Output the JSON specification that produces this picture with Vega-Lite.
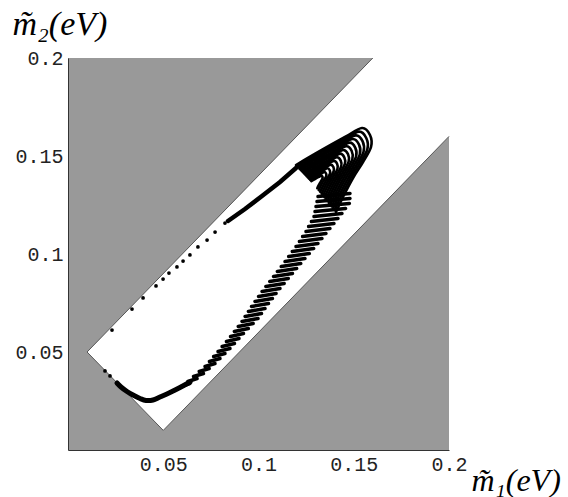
{
  "$schema": "https://vega.github.io/schema/vega-lite/v6.json",
  "width": 381,
  "height": 392,
  "autosize": "none",
  "padding": {"left": 68, "top": 58, "right": 119, "bottom": 47},
  "background": "white",
  "config": {"view": {"fill": "#999999", "stroke": null}},
  "datasets": {
    "region": [
      {"m1": 0.01, "m2": 0.05, "top": 0.05},
      {"m1": 0.05, "m2": 0.01, "top": 0.09},
      {"m1": 0.16, "m2": 0.12, "top": 0.2},
      {"m1": 0.2, "m2": 0.16, "top": 0.2}
    ],
    "edge": [
      {"i": 1, "m1": 0.16, "m2": 0.2},
      {"i": 2, "m1": 0.01, "m2": 0.05},
      {"i": 3, "m1": 0.05, "m2": 0.01},
      {"i": 4, "m1": 0.2, "m2": 0.16}
    ],
    "dots": [
      {"m1": 0.0231, "m2": 0.0612}, {"m1": 0.0336, "m2": 0.0719}, {"m1": 0.0394, "m2": 0.0776},
      {"m1": 0.0462, "m2": 0.0837}, {"m1": 0.0499, "m2": 0.0872}, {"m1": 0.0530, "m2": 0.0903},
      {"m1": 0.0572, "m2": 0.0934}, {"m1": 0.0604, "m2": 0.0964}, {"m1": 0.0640, "m2": 0.0995},
      {"m1": 0.0682, "m2": 0.1036}, {"m1": 0.0730, "m2": 0.1071}, {"m1": 0.0772, "m2": 0.1112},
      {"m1": 0.0824, "m2": 0.1158}, {"m1": 0.02205, "m2": 0.03776}, {"m1": 0.01942, "m2": 0.04031}
    ],
    "tail": [
      {"i": 1, "m1": 0.08399, "m2": 0.11684},
      {"i": 2, "m1": 0.09291, "m2": 0.12296},
      {"i": 3, "m1": 0.10184, "m2": 0.12959},
      {"i": 4, "m1": 0.11129, "m2": 0.13673},
      {"i": 5, "m1": 0.11969, "m2": 0.14388}
    ],
    "bottom": [
      {"i": 1, "m1": 0.06404, "m2": 0.03469},
      {"i": 2, "m1": 0.05879, "m2": 0.03189},
      {"i": 3, "m1": 0.05354, "m2": 0.02934},
      {"i": 4, "m1": 0.04829, "m2": 0.02704},
      {"i": 5, "m1": 0.04462, "m2": 0.02551},
      {"i": 6, "m1": 0.04094, "m2": 0.02526},
      {"i": 7, "m1": 0.03780, "m2": 0.02628},
      {"i": 8, "m1": 0.03412, "m2": 0.02806},
      {"i": 9, "m1": 0.03097, "m2": 0.02985},
      {"i": 10, "m1": 0.02782, "m2": 0.03214},
      {"i": 11, "m1": 0.02572, "m2": 0.03418}
    ],
    "dashes": [
      {"d": -3, "m1": 0.13123, "m2": 0.12934}, {"d": -3, "m1": 0.14803, "m2": 0.13087},
      {"d": -2, "m1": 0.13071, "m2": 0.12679}, {"d": -2, "m1": 0.14803, "m2": 0.12832},
      {"d": -1, "m1": 0.13018, "m2": 0.12423}, {"d": -1, "m1": 0.14772, "m2": 0.12577},
      {"d": 0, "m1": 0.12966, "m2": 0.12168}, {"d": 0, "m1": 0.14572, "m2": 0.12321},
      {"d": 1, "m1": 0.12913, "m2": 0.11913}, {"d": 1, "m1": 0.14383, "m2": 0.12066},
      {"d": 2, "m1": 0.12777, "m2": 0.11658}, {"d": 2, "m1": 0.14173, "m2": 0.11811},
      {"d": 3, "m1": 0.12630, "m2": 0.11403}, {"d": 3, "m1": 0.13963, "m2": 0.11556},
      {"d": 4, "m1": 0.12493, "m2": 0.11148}, {"d": 4, "m1": 0.13753, "m2": 0.11301},
      {"d": 5, "m1": 0.12315, "m2": 0.10893}, {"d": 5, "m1": 0.13543, "m2": 0.11046},
      {"d": 6, "m1": 0.12147, "m2": 0.10638}, {"d": 6, "m1": 0.13333, "m2": 0.10791},
      {"d": 7, "m1": 0.11969, "m2": 0.10383}, {"d": 7, "m1": 0.13123, "m2": 0.10536},
      {"d": 8, "m1": 0.11774, "m2": 0.10128}, {"d": 8, "m1": 0.12898, "m2": 0.10281},
      {"d": 9, "m1": 0.11585, "m2": 0.09872}, {"d": 9, "m1": 0.12667, "m2": 0.10026},
      {"d": 10, "m1": 0.11391, "m2": 0.09617}, {"d": 10, "m1": 0.12441, "m2": 0.09770},
      {"d": 11, "m1": 0.11192, "m2": 0.09362}, {"d": 11, "m1": 0.12220, "m2": 0.09515},
      {"d": 12, "m1": 0.10987, "m2": 0.09107}, {"d": 12, "m1": 0.12005, "m2": 0.09260},
      {"d": 13, "m1": 0.10787, "m2": 0.08852}, {"d": 13, "m1": 0.11785, "m2": 0.09005},
      {"d": 14, "m1": 0.10588, "m2": 0.08597}, {"d": 14, "m1": 0.11564, "m2": 0.08750},
      {"d": 15, "m1": 0.10383, "m2": 0.08342}, {"d": 15, "m1": 0.11349, "m2": 0.08495},
      {"d": 16, "m1": 0.10184, "m2": 0.08087}, {"d": 16, "m1": 0.11129, "m2": 0.08240},
      {"d": 17, "m1": 0.10000, "m2": 0.07832}, {"d": 17, "m1": 0.10924, "m2": 0.07985},
      {"d": 18, "m1": 0.09816, "m2": 0.07577}, {"d": 18, "m1": 0.10730, "m2": 0.07730},
      {"d": 19, "m1": 0.09633, "m2": 0.07321}, {"d": 19, "m1": 0.10525, "m2": 0.07474},
      {"d": 20, "m1": 0.09470, "m2": 0.07066}, {"d": 20, "m1": 0.10341, "m2": 0.07219},
      {"d": 21, "m1": 0.09297, "m2": 0.06811}, {"d": 21, "m1": 0.10157, "m2": 0.06964},
      {"d": 22, "m1": 0.09134, "m2": 0.06556}, {"d": 22, "m1": 0.09974, "m2": 0.06709},
      {"d": 23, "m1": 0.08934, "m2": 0.06301}, {"d": 23, "m1": 0.09722, "m2": 0.06454},
      {"d": 24, "m1": 0.08730, "m2": 0.06046}, {"d": 24, "m1": 0.09465, "m2": 0.06199},
      {"d": 25, "m1": 0.08530, "m2": 0.05791}, {"d": 25, "m1": 0.09213, "m2": 0.05944},
      {"d": 26, "m1": 0.08315, "m2": 0.05536}, {"d": 26, "m1": 0.08976, "m2": 0.05689},
      {"d": 27, "m1": 0.08089, "m2": 0.05281}, {"d": 27, "m1": 0.08740, "m2": 0.05434},
      {"d": 28, "m1": 0.07874, "m2": 0.05026}, {"d": 28, "m1": 0.08504, "m2": 0.05179},
      {"d": 29, "m1": 0.07643, "m2": 0.04770}, {"d": 29, "m1": 0.08241, "m2": 0.04923},
      {"d": 30, "m1": 0.07423, "m2": 0.04515}, {"d": 30, "m1": 0.07979, "m2": 0.04668},
      {"d": 31, "m1": 0.07192, "m2": 0.04260}, {"d": 31, "m1": 0.07717, "m2": 0.04413},
      {"d": 32, "m1": 0.06887, "m2": 0.04005}, {"d": 32, "m1": 0.07412, "m2": 0.04158},
      {"d": 33, "m1": 0.06588, "m2": 0.03750}, {"d": 33, "m1": 0.07113, "m2": 0.03903},
      {"d": 34, "m1": 0.06294, "m2": 0.03495}, {"d": 34, "m1": 0.06777, "m2": 0.03648},
      {"d": 35, "m1": 0.05948, "m2": 0.03240}, {"d": 35, "m1": 0.06388, "m2": 0.03393}
    ],
    "arcs": [
      {"k": 13, "i": 1, "m1": 0.11969, "m2": 0.14541}, {"k": 13, "i": 2, "m1": 0.13228, "m2": 0.15255},
      {"k": 13, "i": 3, "m1": 0.14541, "m2": 0.15969}, {"k": 13, "i": 4, "m1": 0.15433, "m2": 0.16429},
      {"k": 13, "i": 5, "m1": 0.15853, "m2": 0.16071}, {"k": 13, "i": 6, "m1": 0.15906, "m2": 0.15459},
      {"k": 13, "i": 7, "m1": 0.15486, "m2": 0.14694}, {"k": 13, "i": 8, "m1": 0.14961, "m2": 0.13878},
      {"k": 13, "i": 9, "m1": 0.14488, "m2": 0.13010}, {"k": 13, "i": 10, "m1": 0.14068, "m2": 0.12143},
      {"k": 12, "i": 1, "m1": 0.12030, "m2": 0.14478}, {"k": 12, "i": 2, "m1": 0.13208, "m2": 0.15146},
      {"k": 12, "i": 3, "m1": 0.14435, "m2": 0.15814}, {"k": 12, "i": 4, "m1": 0.15269, "m2": 0.16243},
      {"k": 12, "i": 5, "m1": 0.15662, "m2": 0.15909}, {"k": 12, "i": 6, "m1": 0.15711, "m2": 0.15337},
      {"k": 12, "i": 7, "m1": 0.15318, "m2": 0.14621}, {"k": 12, "i": 8, "m1": 0.14828, "m2": 0.13858},
      {"k": 12, "i": 9, "m1": 0.14386, "m2": 0.13047}, {"k": 12, "i": 10, "m1": 0.13993, "m2": 0.12236},
      {"k": 11, "i": 1, "m1": 0.12092, "m2": 0.14414}, {"k": 11, "i": 2, "m1": 0.13187, "m2": 0.15035},
      {"k": 11, "i": 3, "m1": 0.14328, "m2": 0.15655}, {"k": 11, "i": 4, "m1": 0.15103, "m2": 0.16054},
      {"k": 11, "i": 5, "m1": 0.15468, "m2": 0.15744}, {"k": 11, "i": 6, "m1": 0.15514, "m2": 0.15212},
      {"k": 11, "i": 7, "m1": 0.15149, "m2": 0.14547}, {"k": 11, "i": 8, "m1": 0.14692, "m2": 0.13837},
      {"k": 11, "i": 9, "m1": 0.14282, "m2": 0.13084}, {"k": 11, "i": 10, "m1": 0.13917, "m2": 0.12330},
      {"k": 10, "i": 1, "m1": 0.12154, "m2": 0.14351}, {"k": 10, "i": 2, "m1": 0.13167, "m2": 0.14925},
      {"k": 10, "i": 3, "m1": 0.14222, "m2": 0.15499}, {"k": 10, "i": 4, "m1": 0.14939, "m2": 0.15869},
      {"k": 10, "i": 5, "m1": 0.15277, "m2": 0.15581}, {"k": 10, "i": 6, "m1": 0.15319, "m2": 0.15089},
      {"k": 10, "i": 7, "m1": 0.14981, "m2": 0.14474}, {"k": 10, "i": 8, "m1": 0.14559, "m2": 0.13818},
      {"k": 10, "i": 9, "m1": 0.14180, "m2": 0.13120}, {"k": 10, "i": 10, "m1": 0.13842, "m2": 0.12423},
      {"k": 9, "i": 1, "m1": 0.12216, "m2": 0.14287}, {"k": 9, "i": 2, "m1": 0.13146, "m2": 0.14814},
      {"k": 9, "i": 3, "m1": 0.14114, "m2": 0.15341}, {"k": 9, "i": 4, "m1": 0.14773, "m2": 0.15680},
      {"k": 9, "i": 5, "m1": 0.15083, "m2": 0.15416}, {"k": 9, "i": 6, "m1": 0.15122, "m2": 0.14965},
      {"k": 9, "i": 7, "m1": 0.14812, "m2": 0.14400}, {"k": 9, "i": 8, "m1": 0.14424, "m2": 0.13797},
      {"k": 9, "i": 9, "m1": 0.14076, "m2": 0.13157}, {"k": 9, "i": 10, "m1": 0.13766, "m2": 0.12517},
      {"k": 8, "i": 1, "m1": 0.12278, "m2": 0.14224}, {"k": 8, "i": 2, "m1": 0.13125, "m2": 0.14705},
      {"k": 8, "i": 3, "m1": 0.14009, "m2": 0.15185}, {"k": 8, "i": 4, "m1": 0.14609, "m2": 0.15494},
      {"k": 8, "i": 5, "m1": 0.14892, "m2": 0.15254}, {"k": 8, "i": 6, "m1": 0.14927, "m2": 0.14842},
      {"k": 8, "i": 7, "m1": 0.14645, "m2": 0.14327}, {"k": 8, "i": 8, "m1": 0.14291, "m2": 0.13777},
      {"k": 8, "i": 9, "m1": 0.13973, "m2": 0.13194}, {"k": 8, "i": 10, "m1": 0.13691, "m2": 0.12610},
      {"k": 7, "i": 1, "m1": 0.12339, "m2": 0.14161}, {"k": 7, "i": 2, "m1": 0.13105, "m2": 0.14595},
      {"k": 7, "i": 3, "m1": 0.13903, "m2": 0.15029}, {"k": 7, "i": 4, "m1": 0.14445, "m2": 0.15309},
      {"k": 7, "i": 5, "m1": 0.14701, "m2": 0.15091}, {"k": 7, "i": 6, "m1": 0.14733, "m2": 0.14719},
      {"k": 7, "i": 7, "m1": 0.14477, "m2": 0.14254}, {"k": 7, "i": 8, "m1": 0.14158, "m2": 0.13758},
      {"k": 7, "i": 9, "m1": 0.13871, "m2": 0.13230}, {"k": 7, "i": 10, "m1": 0.13616, "m2": 0.12703},
      {"k": 6, "i": 1, "m1": 0.12401, "m2": 0.14097}, {"k": 6, "i": 2, "m1": 0.13084, "m2": 0.14484},
      {"k": 6, "i": 3, "m1": 0.13795, "m2": 0.14871}, {"k": 6, "i": 4, "m1": 0.14279, "m2": 0.15120},
      {"k": 6, "i": 5, "m1": 0.14507, "m2": 0.14926}, {"k": 6, "i": 6, "m1": 0.14535, "m2": 0.14595},
      {"k": 6, "i": 7, "m1": 0.14308, "m2": 0.14180}, {"k": 6, "i": 8, "m1": 0.14023, "m2": 0.13737},
      {"k": 6, "i": 9, "m1": 0.13767, "m2": 0.13267}, {"k": 6, "i": 10, "m1": 0.13539, "m2": 0.12797},
      {"k": 5, "i": 1, "m1": 0.12463, "m2": 0.14034}, {"k": 5, "i": 2, "m1": 0.13064, "m2": 0.14375},
      {"k": 5, "i": 3, "m1": 0.13690, "m2": 0.14715}, {"k": 5, "i": 4, "m1": 0.14115, "m2": 0.14934},
      {"k": 5, "i": 5, "m1": 0.14316, "m2": 0.14764}, {"k": 5, "i": 6, "m1": 0.14341, "m2": 0.14472},
      {"k": 5, "i": 7, "m1": 0.14140, "m2": 0.14107}, {"k": 5, "i": 8, "m1": 0.13890, "m2": 0.13717},
      {"k": 5, "i": 9, "m1": 0.13665, "m2": 0.13304}, {"k": 5, "i": 10, "m1": 0.13464, "m2": 0.12890},
      {"k": 4, "i": 1, "m1": 0.12524, "m2": 0.13971}, {"k": 4, "i": 2, "m1": 0.13043, "m2": 0.14265},
      {"k": 4, "i": 3, "m1": 0.13584, "m2": 0.14559}, {"k": 4, "i": 4, "m1": 0.13952, "m2": 0.14749},
      {"k": 4, "i": 5, "m1": 0.14125, "m2": 0.14601}, {"k": 4, "i": 6, "m1": 0.14146, "m2": 0.14349},
      {"k": 4, "i": 7, "m1": 0.13973, "m2": 0.14034}, {"k": 4, "i": 8, "m1": 0.13757, "m2": 0.13698},
      {"k": 4, "i": 9, "m1": 0.13562, "m2": 0.13340}, {"k": 4, "i": 10, "m1": 0.13389, "m2": 0.12983},
      {"k": 3, "i": 1, "m1": 0.12587, "m2": 0.13907}, {"k": 3, "i": 2, "m1": 0.13022, "m2": 0.14154},
      {"k": 3, "i": 3, "m1": 0.13476, "m2": 0.14401}, {"k": 3, "i": 4, "m1": 0.13785, "m2": 0.14560},
      {"k": 3, "i": 5, "m1": 0.13931, "m2": 0.14436}, {"k": 3, "i": 6, "m1": 0.13949, "m2": 0.14225},
      {"k": 3, "i": 7, "m1": 0.13803, "m2": 0.13960}, {"k": 3, "i": 8, "m1": 0.13622, "m2": 0.13677},
      {"k": 3, "i": 9, "m1": 0.13458, "m2": 0.13377}, {"k": 3, "i": 10, "m1": 0.13313, "m2": 0.13077},
      {"k": 2, "i": 1, "m1": 0.12648, "m2": 0.13844}, {"k": 2, "i": 2, "m1": 0.13002, "m2": 0.14045},
      {"k": 2, "i": 3, "m1": 0.13371, "m2": 0.14245}, {"k": 2, "i": 4, "m1": 0.13621, "m2": 0.14374},
      {"k": 2, "i": 5, "m1": 0.13739, "m2": 0.14274}, {"k": 2, "i": 6, "m1": 0.13754, "m2": 0.14102},
      {"k": 2, "i": 7, "m1": 0.13636, "m2": 0.13887}, {"k": 2, "i": 8, "m1": 0.13489, "m2": 0.13657},
      {"k": 2, "i": 9, "m1": 0.13356, "m2": 0.13414}, {"k": 2, "i": 10, "m1": 0.13238, "m2": 0.13170},
      {"k": 1, "i": 1, "m1": 0.12710, "m2": 0.13780}, {"k": 1, "i": 2, "m1": 0.12981, "m2": 0.13933},
      {"k": 1, "i": 3, "m1": 0.13263, "m2": 0.14087}, {"k": 1, "i": 4, "m1": 0.13455, "m2": 0.14186},
      {"k": 1, "i": 5, "m1": 0.13545, "m2": 0.14109}, {"k": 1, "i": 6, "m1": 0.13557, "m2": 0.13977},
      {"k": 1, "i": 7, "m1": 0.13466, "m2": 0.13813}, {"k": 1, "i": 8, "m1": 0.13354, "m2": 0.13637},
      {"k": 1, "i": 9, "m1": 0.13252, "m2": 0.13451}, {"k": 1, "i": 10, "m1": 0.13162, "m2": 0.13264},
      {"k": 0, "i": 1, "m1": 0.12772, "m2": 0.13717}, {"k": 0, "i": 2, "m1": 0.12961, "m2": 0.13824},
      {"k": 0, "i": 3, "m1": 0.13158, "m2": 0.13931}, {"k": 0, "i": 4, "m1": 0.13291, "m2": 0.14000},
      {"k": 0, "i": 5, "m1": 0.13354, "m2": 0.13946}, {"k": 0, "i": 6, "m1": 0.13362, "m2": 0.13855},
      {"k": 0, "i": 7, "m1": 0.13299, "m2": 0.13740}, {"k": 0, "i": 8, "m1": 0.13221, "m2": 0.13617},
      {"k": 0, "i": 9, "m1": 0.13150, "m2": 0.13487}, {"k": 0, "i": 10, "m1": 0.13087, "m2": 0.13357}
    ]
  },
  "encoding": {
    "x": {
      "field": "m1", "type": "quantitative",
      "scale": {"domain": [0, 0.2], "nice": false, "zero": false},
      "axis": {
        "values": [0.05, 0.1, 0.15, 0.2], "format": "~g", "grid": false,
        "ticks": false, "tickSize": 0, "domainColor": "#333", "domainWidth": 1,
        "labelFont": "Liberation Mono", "labelFontSize": 20, "labelColor": "#222",
        "labelPadding": 4, "labelDx": 2, "labelFlush": false, "labelOverlap": false,
        "title": "m̃₁(eV)", "titleFont": "Liberation Serif", "titleFontStyle": "italic",
        "titleFontWeight": "normal", "titleFontSize": 32, "titleColor": "black",
        "titleX": 403, "titleY": 40, "titleAlign": "left", "titleBaseline": "alphabetic", "titleAngle": 0
      }
    },
    "y": {
      "field": "m2", "type": "quantitative",
      "scale": {"domain": [0, 0.2], "nice": false, "zero": false},
      "axis": {
        "values": [0.05, 0.1, 0.15, 0.2], "format": "~g", "grid": false,
        "ticks": false, "tickSize": 0, "domainColor": "#333", "domainWidth": 1,
        "labelFont": "Liberation Mono", "labelFontSize": 20, "labelColor": "#222",
        "labelPadding": 5, "labelFlush": false, "labelOverlap": false,
        "title": "m̃₂(eV)", "titleFont": "Liberation Serif", "titleFontStyle": "italic",
        "titleFontWeight": "normal", "titleFontSize": 34, "titleColor": "black",
        "titleX": -56, "titleY": -24, "titleAlign": "left", "titleBaseline": "alphabetic", "titleAngle": 0
      }
    }
  },
  "layer": [
    {"data": {"name": "region"}, "mark": {"type": "area", "color": "white", "interpolate": "linear"},
     "encoding": {"y2": {"field": "top"}}},
    {"data": {"name": "edge"}, "mark": {"type": "line", "color": "#555555", "strokeWidth": 1},
     "encoding": {"order": {"field": "i", "type": "quantitative"}}},
    {"data": {"name": "bottom"}, "mark": {"type": "line", "color": "black", "strokeWidth": 5, "strokeCap": "round", "interpolate": "cardinal"},
     "encoding": {"order": {"field": "i", "type": "quantitative"}}},
    {"data": {"name": "dashes"}, "mark": {"type": "line", "color": "black", "strokeWidth": 3.5, "strokeCap": "round"},
     "encoding": {"detail": {"field": "d", "type": "nominal"}}},
    {"data": {"name": "arcs"}, "mark": {"type": "line", "color": "black", "strokeWidth": 2.6, "strokeCap": "round", "interpolate": "cardinal"},
     "encoding": {"detail": {"field": "k", "type": "nominal"}, "order": {"field": "i", "type": "quantitative"}}},
    {"data": {"name": "tail"}, "mark": {"type": "line", "color": "black", "strokeWidth": 4.5, "strokeCap": "round"},
     "encoding": {"order": {"field": "i", "type": "quantitative"}}},
    {"data": {"name": "dots"}, "mark": {"type": "point", "filled": true, "color": "black", "opacity": 1, "size": 14}}
  ]
}
